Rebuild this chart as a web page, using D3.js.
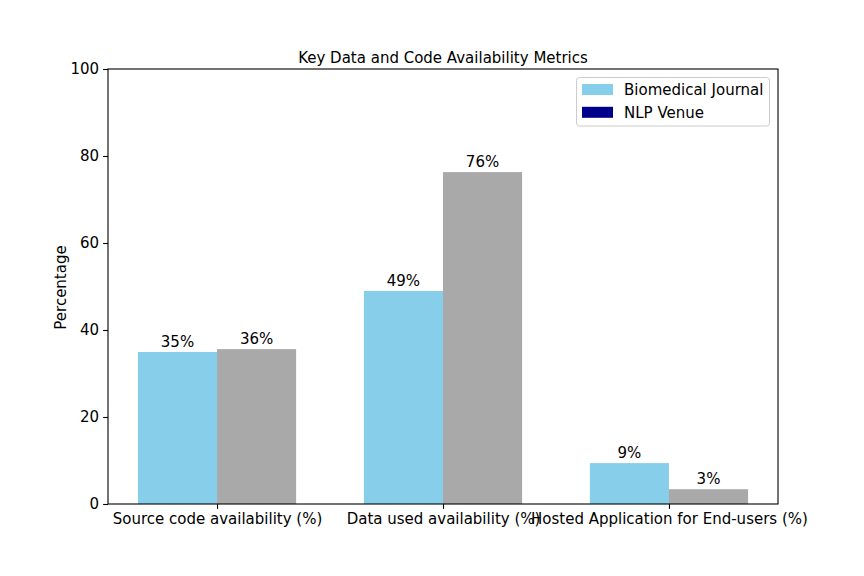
<!DOCTYPE html>
<html>
<head>
<meta charset="utf-8">
<script src="https://cdn.jsdelivr.net/npm/d3@7"></script>
<style>
  html, body { margin: 0; padding: 0; background: #fff; }
  svg { display: block; }
  text { font-family: "DejaVu Sans", sans-serif; fill: #000; }
</style>
</head>
<body>
<script>
const categories = ["Source code availability (%)", "Data used availability (%)", "Hosted Application for End-users (%)"];
const seriesNames = ["Biomedical Journal", "NLP Venue"];
const biomedical = [34.95, 48.97, 9.4];
const nlpVenue = [35.6, 76.3, 3.4];
const barLabelsBio = ["35%", "49%", "9%"];
const barLabelsNlp = ["36%", "76%", "3%"];
const yTicks = [0, 20, 40, 60, 80, 100];
const chartTitle = "Key Data and Code Availability Metrics";
const yTitle = "Percentage";

const W = 864, H = 576;
const mLeft = 108, mRight = 778, mTop = 69, mBottom = 504;
const fs = 15;
const bioColor = "#87CEEB", nlpBarColor = "#A9A9A9", nlpLegendColor = "#00008B";

const svg = d3.select("body").append("svg").attr("width", W).attr("height", H);

const x = d3.scaleLinear().domain([-0.4825, 2.4825]).range([mLeft, mRight]);
const y = d3.scaleLinear().domain([0, 100]).range([mBottom, mTop]);
const barW = 0.35;

const series = [
  { name: seriesNames[0], values: biomedical, labels: barLabelsBio, color: bioColor, offset: -barW / 2 },
  { name: seriesNames[1], values: nlpVenue, labels: barLabelsNlp, color: nlpBarColor, offset: barW / 2 }
];

series.forEach(s => {
  const g = svg.append("g");
  g.selectAll("rect").data(s.values).join("rect")
    .attr("x", (d, i) => x(i + s.offset - barW / 2))
    .attr("width", (d, i) => x(i + s.offset + barW / 2) - x(i + s.offset - barW / 2))
    .attr("y", d => y(d))
    .attr("height", d => y(0) - y(d))
    .attr("fill", s.color);
  g.selectAll("text").data(s.values).join("text")
    .attr("x", (d, i) => x(i + s.offset))
    .attr("y", d => y(d) - 5)
    .attr("text-anchor", "middle")
    .attr("font-size", fs)
    .text((d, i) => s.labels[i]);
});

// axes
const yAxis = d3.axisLeft(y).tickValues(yTicks).tickSize(4.9).tickPadding(4).tickFormat(d3.format("d"));
const gy = svg.append("g").attr("transform", `translate(${mLeft},0)`).call(yAxis);
gy.select(".domain").remove();
gy.selectAll("text").attr("font-size", fs).attr("font-family", "DejaVu Sans").attr("fill", "#000");
gy.selectAll("line").attr("stroke", "#000").attr("stroke-width", 1.1);

const xAxis = d3.axisBottom(x).tickValues([0, 1, 2]).tickSize(4.9).tickPadding(4).tickFormat((d) => categories[d]);
const gx = svg.append("g").attr("transform", `translate(0,${mBottom})`).call(xAxis);
gx.select(".domain").remove();
gx.selectAll("text").attr("font-size", fs).attr("font-family", "DejaVu Sans").attr("fill", "#000");
gx.selectAll("line").attr("stroke", "#000").attr("stroke-width", 1.1);

// frame
svg.append("rect").attr("x", mLeft).attr("y", mTop).attr("width", mRight - mLeft).attr("height", mBottom - mTop)
  .attr("fill", "none").attr("stroke", "#000").attr("stroke-width", 1.1);

// title
svg.append("text").attr("x", (mLeft + mRight) / 2).attr("y", mTop - 6)
  .attr("text-anchor", "middle").attr("font-size", fs).text(chartTitle);

// y label
svg.append("text").attr("transform", `translate(66,${(mTop + mBottom) / 2 + 1}) rotate(-90)`)
  .attr("text-anchor", "middle").attr("font-size", fs).text(yTitle);

// legend
const lg = svg.append("g");
lg.append("rect").attr("x", 576.5).attr("y", 77.5).attr("width", 193).attr("height", 48.5)
  .attr("rx", 3).attr("fill", "#fff").attr("fill-opacity", 0.8).attr("stroke", "#ccc").attr("stroke-width", 1);
const legendColors = [bioColor, nlpLegendColor];
seriesNames.forEach((n, i) => {
  lg.append("rect").attr("x", 582).attr("y", 84 + i * 22.8).attr("width", 31).attr("height", 11).attr("fill", legendColors[i]);
  lg.append("text").attr("x", 624).attr("y", 95 + i * 22.8).attr("font-size", fs).text(n);
});
</script>
</body>
</html>
